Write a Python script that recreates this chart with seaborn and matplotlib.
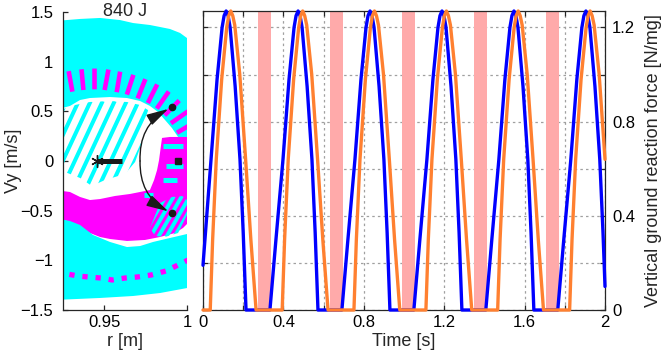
import numpy as np
import matplotlib
matplotlib.use("Agg")
import matplotlib.pyplot as plt
import seaborn as sns
from matplotlib.patches import Polygon
from matplotlib.collections import LineCollection
from matplotlib.ticker import MultipleLocator

# colours
CYAN = "#00ffff"
MAGENTA = "#ff00ff"
BLUE = "#0000ff"
ORANGE = "#ff8030"
PINK = "#ffaaaa"
GRID = "#a0a0a0"

# ---------------- right panel data (time [s], force [N/mg]) ----------------
blue_t = [0.000, 0.040, 0.070, 0.095, 0.105, 0.115, 0.125, 0.135, 0.160, 0.184, 0.200, 0.214,
          0.333, 0.363, 0.398, 0.428, 0.453, 0.463, 0.473, 0.483, 0.493, 0.518, 0.542, 0.558, 0.572,
          0.691, 0.721, 0.756, 0.786, 0.811, 0.821, 0.831, 0.841, 0.851, 0.876, 0.900, 0.916, 0.930,
          1.049, 1.079, 1.114, 1.144, 1.169, 1.179, 1.189, 1.199, 1.209, 1.234, 1.258, 1.274, 1.288,
          1.407, 1.437, 1.472, 1.502, 1.527, 1.537, 1.547, 1.557, 1.567, 1.592, 1.616, 1.632, 1.646,
          1.765, 1.795, 1.830, 1.860, 1.885, 1.895, 1.905, 1.915, 1.925, 1.950, 1.974, 1.990, 2.000]
blue_f = [0.19, 0.64, 0.98, 1.20, 1.25, 1.27, 1.25, 1.20, 0.95, 0.64, 0.33, 0.00,
          0.00, 0.30, 0.64, 0.98, 1.20, 1.25, 1.27, 1.25, 1.20, 0.95, 0.64, 0.33, 0.00,
          0.00, 0.30, 0.64, 0.98, 1.20, 1.25, 1.27, 1.25, 1.20, 0.95, 0.64, 0.33, 0.00,
          0.00, 0.30, 0.64, 0.98, 1.20, 1.25, 1.27, 1.25, 1.20, 0.95, 0.64, 0.33, 0.00,
          0.00, 0.30, 0.64, 0.98, 1.20, 1.25, 1.27, 1.25, 1.20, 0.95, 0.64, 0.33, 0.00,
          0.00, 0.30, 0.64, 0.98, 1.20, 1.25, 1.27, 1.25, 1.20, 0.95, 0.64, 0.33, 0.10]

orange_t = [0.000, 0.036, 0.048, 0.066, 0.093, 0.118, 0.128, 0.138, 0.148, 0.158, 0.183, 0.212, 0.238, 0.264,
            0.394, 0.406, 0.424, 0.451, 0.476, 0.486, 0.496, 0.506, 0.516, 0.541, 0.570, 0.596, 0.622,
            0.751, 0.763, 0.781, 0.808, 0.833, 0.843, 0.853, 0.863, 0.873, 0.898, 0.927, 0.953, 0.979,
            1.109, 1.121, 1.139, 1.166, 1.191, 1.201, 1.211, 1.221, 1.231, 1.256, 1.285, 1.311, 1.337,
            1.466, 1.478, 1.496, 1.523, 1.548, 1.558, 1.568, 1.578, 1.588, 1.613, 1.642, 1.668, 1.694,
            1.824, 1.836, 1.854, 1.881, 1.906, 1.916, 1.926, 1.936, 1.946, 1.971, 2.000]
orange_f = [0.00, 0.00, 0.30, 0.64, 0.98, 1.20, 1.25, 1.27, 1.25, 1.21, 1.00, 0.64, 0.30, 0.00,
            0.00, 0.30, 0.64, 0.98, 1.20, 1.25, 1.27, 1.25, 1.21, 1.00, 0.64, 0.30, 0.00,
            0.00, 0.30, 0.64, 0.98, 1.20, 1.25, 1.27, 1.25, 1.21, 1.00, 0.64, 0.30, 0.00,
            0.00, 0.30, 0.64, 0.98, 1.20, 1.25, 1.27, 1.25, 1.21, 1.00, 0.64, 0.30, 0.00,
            0.00, 0.30, 0.64, 0.98, 1.20, 1.25, 1.27, 1.25, 1.21, 1.00, 0.64, 0.30, 0.00,
            0.00, 0.30, 0.64, 0.98, 1.20, 1.25, 1.27, 1.25, 1.21, 1.00, 0.64]

band_start = [0.274, 0.632, 0.990, 1.348, 1.706]
band_end = [0.338, 0.697, 1.055, 1.413, 1.771]

time_ticks = [0, 0.4, 0.8, 1.2, 1.6, 2.0]
time_labels = ["0", "0.4", "0.8", "1.2", "1.6", "2"]
force_ticks = [0, 0.4, 0.8, 1.2]
force_labels = ["0", "0.4", "0.8", "1.2"]

# ---------------- left panel data (r [m], Vy [m/s]) ----------------
cyan_top_r = [0.92, 0.9353, 0.9474, 0.9595, 0.9674, 0.9776, 0.9837, 0.9897, 0.9958, 1.0,
              1.0,
              0.9946, 0.9909, 0.9867, 0.9825, 0.9776, 0.9716, 0.9637, 0.9534, 0.9413, 0.9353, 0.9292, 0.92]
cyan_top_v = [1.409, 1.430, 1.440, 1.419, 1.389, 1.369, 1.349, 1.329, 1.289, 1.238,
              0.242,
              0.242, 0.332, 0.413, 0.493, 0.554, 0.604, 0.634, 0.644, 0.634, 0.614, 0.554, 0.513]

mag_band_r = [0.921, 0.9341, 0.9413, 0.9486, 0.9553, 0.9625, 0.9698, 0.9758, 0.9819, 0.9879, 0.9928, 0.9970, 1.0006]
mag_band_v = [0.775, 0.815, 0.826, 0.826, 0.805, 0.785, 0.745, 0.705, 0.654, 0.584, 0.503, 0.403, 0.302]

stripe_r = [0.92, 0.9323, 0.9413, 0.9534, 0.9637, 0.9716, 0.9764, 0.9746, 0.9716, 0.9686, 0.9625, 0.9504, 0.9425, 0.9353, 0.92]
stripe_v = [0.493, 0.564, 0.594, 0.604, 0.594, 0.564, 0.513, 0.332, 0.131, -0.010, -0.131, -0.191, -0.252, -0.171, -0.070]

mag_r = [0.92, 0.9292, 0.9353, 0.9413, 0.9474, 0.9565, 0.9655, 0.9716, 0.9776, 0.9801, 0.9819, 0.9831, 0.9843, 0.9849,
         0.9897, 1.0, 1.0, 0.9976, 0.9928, 0.9837, 0.9746, 0.9637, 0.9534, 0.9474, 0.9413, 0.9353, 0.9292, 0.92]
mag_v = [-0.292, -0.312, -0.362, -0.393, -0.383, -0.352, -0.332, -0.312, -0.292, -0.191, -0.091, 0.010, 0.161, 0.232,
         0.242, 0.242, -0.634, -0.674, -0.725, -0.765, -0.795, -0.805, -0.785, -0.765, -0.725, -0.674, -0.614, -0.564]

cyan_low_r = [0.92, 0.9292, 0.9353, 0.9432, 0.9534, 0.9637, 0.9716, 0.9795, 0.9897, 1.0,
              1.0, 0.9837, 0.9674, 0.9474, 0.92]
cyan_low_v = [-0.574, -0.604, -0.644, -0.745, -0.815, -0.866, -0.856, -0.815, -0.775, -0.735,
              -1.279, -1.329, -1.359, -1.379, -1.399]

mag_dots_r = [0.921, 0.9341, 0.9407, 0.9480, 0.9547, 0.9625, 0.9698, 0.9782, 0.9873, 0.9970, 1.0006]
mag_dots_v = [-1.117, -1.158, -1.168, -1.178, -1.198, -1.178, -1.168, -1.148, -1.107, -1.027, -0.997]

cbar_r0 = [0.9855, 0.9873, 0.9855, 0.9740]
cbar_r1 = [0.9976, 0.9976, 0.9940, 0.9795]
cbar_v = [0.151, -0.050, -0.191, -0.342]

cstripe_r = [0.9776, 0.9837, 0.9909, 0.9976, 1.0, 1.0, 0.9946, 0.9867, 0.9807]
cstripe_v = [-0.674, -0.423, -0.362, -0.352, -0.393, -0.544, -0.725, -0.765, -0.755]

start_r, start_v = 0.9456, 0.0
step_r = [0.9456, 0.9607]
step_v = [0.0, 0.0]
fixed_r, fixed_v = 0.9946, 0.0
apex_r = [0.9909, 0.9909]
apex_v = [0.544, -0.526]
arc_r, arc_v = 0.9716, 0.0

r_ticks = [0.95, 1.0]
r_labels = ["0.95", "1"]
vy_ticks = [1.5, 1.0, 0.5, 0.0, -0.5, -1.0, -1.5]
vy_labels = ["1.5", "1", "0.5", "0", "\u22120.5", "\u22121", "\u22121.5"]

# ---------------- style ----------------
sns.set_theme(style="ticks")
plt.rcParams["font.family"] = ["Liberation Sans", "DejaVu Sans"]
plt.rcParams["axes.edgecolor"] = "#262626"
plt.rcParams["axes.linewidth"] = 0.9


def draw_stripes(ax, poly_r, poly_v, color, angle, spacing, lw, zorder):
    # parallel hatch lines clipped to a polygon (hatch pattern, not data)
    xy = np.column_stack([poly_r, poly_v])
    pts = ax.transData.transform(xy)
    x0, y0 = pts.min(axis=0)
    x1, y1 = pts.max(axis=0)
    run = (y1 - y0) / np.tan(np.radians(angle))
    inv = ax.transData.inverted()
    segs = [inv.transform(np.array([[xs, y0], [xs + run, y1]]))
            for xs in np.arange(x0 - run, x1 + spacing, spacing)]
    clip = Polygon(xy, closed=True, fc="none", ec="none")
    ax.add_patch(clip)
    lc = LineCollection(segs, colors=color, linewidths=lw, zorder=zorder)
    ax.add_collection(lc, autolim=False)
    lc.set_clip_path(clip)


fig = plt.figure(figsize=(6.64, 3.52), dpi=100)
ax1 = fig.add_axes([63 / 664, 42 / 352, 124 / 664, 298 / 352])
ax2 = fig.add_axes([203 / 664, 42 / 352, 402 / 664, 299 / 352])

# ---------------- left panel ----------------
ax1.set_xlim(0.925, 1.0)
ax1.set_ylim(-1.5, 1.5)

ax1.fill(cyan_top_r, cyan_top_v, color=CYAN, lw=0, zorder=1)
ax1.plot(mag_band_r, mag_band_v, color=MAGENTA, lw=15, dashes=(0.22, 0.36), zorder=2)
draw_stripes(ax1, stripe_r, stripe_v, CYAN, 65, 12, 2.9, 2)
ax1.fill(mag_r, mag_v, color=MAGENTA, lw=0, zorder=2)
ax1.fill(cyan_low_r, cyan_low_v, color=CYAN, lw=0, zorder=2)
ax1.plot(mag_dots_r, mag_dots_v, color=MAGENTA, lw=3.8, dashes=(1.0, 1.5), zorder=3)
draw_stripes(ax1, cstripe_r, cstripe_v, CYAN, 60, 8, 2.8, 3)
for r0, r1, v in zip(cbar_r0, cbar_r1, cbar_v):
    ax1.plot([r0, r1], [v, v], color=CYAN, lw=3.6, solid_capstyle="butt", zorder=3)

ax1.plot(step_r, step_v, color="k", lw=3.6, solid_capstyle="butt", zorder=5)
ax1.plot(start_r, start_v, marker=(6, 2, 0), ms=9, mew=1.0, color="k", zorder=5)
ax1.plot(fixed_r, fixed_v, "s", ms=4, color="k", zorder=5)
ax1.plot(apex_r, apex_v, "o", ms=4.5, color="k", zorder=5)
for vr, vv, rad in zip(apex_r, apex_v, [-0.32, 0.32]):
    ax1.annotate("", xy=(vr, vv), xytext=(arc_r, arc_v), zorder=5,
                 arrowprops=dict(arrowstyle="-|>,head_length=0.75,head_width=0.2",
                                 connectionstyle=f"arc3,rad={rad}", color="k", lw=1.0,
                                 shrinkA=0, shrinkB=3, mutation_scale=18))

ax1.set_xlim(0.925, 1.0)
ax1.set_ylim(-1.5, 1.5)
ax1.set_xticks(r_ticks, labels=r_labels)
ax1.set_yticks(vy_ticks, labels=vy_labels)
ax1.spines["top"].set_visible(False)
ax1.spines["right"].set_visible(False)
ax1.tick_params(direction="in", length=3.5, width=0.9, labelsize=12, colors="#262626",
                labelcolor="black")
ax1.tick_params(axis="y", pad=7)
ax1.set_xlabel("r [m]", fontsize=13, labelpad=2)
ax1.set_ylabel("Vy [m/s]", fontsize=13)
ax1.yaxis.set_label_coords(-0.33, 0.5)
ax1.text(0.5, 1.0, "840 J", transform=ax1.transAxes, ha="center", va="center", fontsize=13)

# ---------------- right panel ----------------
for s, e in zip(band_start, band_end):
    ax2.axvspan(s, e, color=PINK, lw=0, zorder=1)

sns.lineplot(x=blue_t, y=blue_f, ax=ax2, color=BLUE, lw=2.4, zorder=3, clip_on=False)
sns.lineplot(x=orange_t, y=orange_f, ax=ax2, color=ORANGE, lw=2.4, zorder=4, clip_on=False)

ax2.set_xlim(0, 2)
ax2.set_ylim(0, 1.27)
ax2.set_xticks(time_ticks, labels=time_labels)
ax2.set_yticks(force_ticks, labels=force_labels)
ax2.xaxis.set_minor_locator(MultipleLocator(0.2))
ax2.yaxis.set_minor_locator(MultipleLocator(0.2))
ax2.yaxis.set_label_position("right")
ax2.tick_params(which="both", direction="in", length=3.5, width=0.9, top=True, bottom=True,
                left=True, right=True, labelleft=False, labelright=True, labelsize=12,
                colors="#262626", labelcolor="black")
ax2.tick_params(axis="y", pad=5)
ax2.set_axisbelow(True)
ax2.grid(which="both", color=GRID, linestyle=(0, (2, 2.5)), lw=0.9)
ax2.set_xlabel("Time [s]", fontsize=13, labelpad=2)
ax2.set_ylabel("Vertical ground reaction force [N/mg]", fontsize=13, rotation=90)
ax2.yaxis.set_label_coords(1.1, 0.5)

fig.savefig("out.png", dpi=100)
